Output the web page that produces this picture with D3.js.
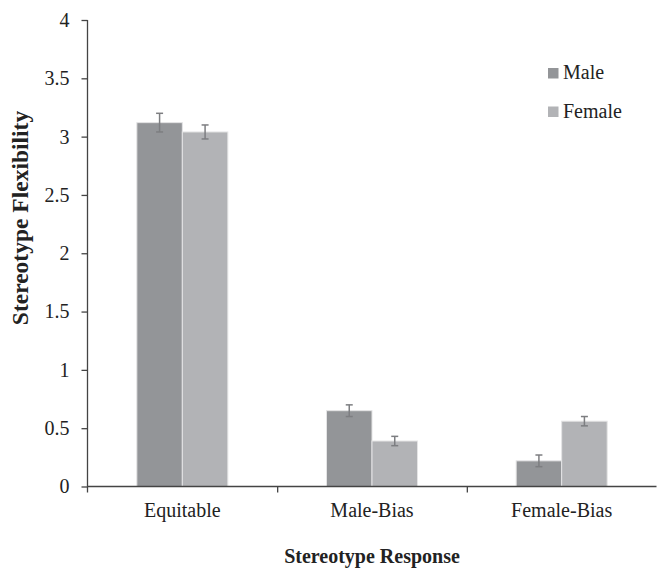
<!DOCTYPE html>
<html>
<head>
<meta charset="utf-8">
<script src="https://cdn.jsdelivr.net/npm/d3@7"></script>
<style>
  html, body { margin: 0; padding: 0; background: #fff; }
  svg { display: block; }
  text { font-family: "Liberation Serif", "Times New Roman", serif; fill: #222; }
</style>
</head>
<body>
<svg id="chart" width="657" height="568"></svg>
<script>
// Stereotype flexibility by response type and gender
const categories = ["Equitable", "Male-Bias", "Female-Bias"];
const seriesNames = ["Male", "Female"];
const maleValues = [3.12, 0.65, 0.22];
const maleErrors = [0.08, 0.05, 0.05];
const femaleValues = [3.04, 0.39, 0.56];
const femaleErrors = [0.06, 0.04, 0.04];
const yTicks = [0, 0.5, 1, 1.5, 2, 2.5, 3, 3.5, 4];
const yTickLabels = ["0", "0.5", "1", "1.5", "2", "2.5", "3", "3.5", "4"];

const colors = { Male: "#939598", Female: "#b2b3b6" };
const rows = categories.map((c, i) => ({
  category: c,
  bars: [
    { series: "Male", value: maleValues[i], err: maleErrors[i] },
    { series: "Female", value: femaleValues[i], err: femaleErrors[i] }
  ]
}));

const svg = d3.select("#chart");
const plotLeft = 87.5, plotRight = 656.5, plotTop = 20, plotBottom = 486.5;

const y = d3.scaleLinear().domain([0, 4]).range([plotBottom, plotTop]);
const x = d3.scaleBand().domain(categories).range([plotLeft, plotRight]).padding(0);
const groupWidth = 91;
const xs = d3.scaleBand().domain(seriesNames).range([0, groupWidth]).padding(0);

// bars
const groups = svg.append("g").selectAll("g").data(rows).join("g")
  .attr("transform", d => `translate(${x(d.category) + (x.bandwidth() - groupWidth) / 2},0)`);

groups.selectAll("rect").data(d => d.bars).join("rect")
  .attr("x", d => xs(d.series))
  .attr("y", d => y(d.value))
  .attr("width", xs.bandwidth())
  .attr("height", d => y(0) - y(d.value))
  .attr("fill", d => colors[d.series])
  .attr("stroke", "#e4e4e5")
  .attr("stroke-width", 1);

// error bars
const eb = groups.selectAll("g.err").data(d => d.bars).join("g").attr("class", "err")
  .attr("stroke", "#7d7e81").attr("stroke-width", 1.5);
const cx = d => xs(d.series) + xs.bandwidth() / 2;
eb.append("line")
  .attr("x1", cx).attr("x2", cx)
  .attr("y1", d => y(d.value + d.err)).attr("y2", d => y(d.value - d.err));
eb.append("line")
  .attr("x1", d => cx(d) - 3.5).attr("x2", d => cx(d) + 3.5)
  .attr("y1", d => y(d.value + d.err)).attr("y2", d => y(d.value + d.err));
eb.append("line")
  .attr("x1", d => cx(d) - 3.5).attr("x2", d => cx(d) + 3.5)
  .attr("y1", d => y(d.value - d.err)).attr("y2", d => y(d.value - d.err));

// y axis
const yAxis = d3.axisLeft(y).tickValues(yTicks)
  .tickFormat((d, i) => yTickLabels[i]).tickSize(6).tickPadding(12);
const gy = svg.append("g").attr("transform", `translate(${plotLeft},0)`).call(yAxis);
gy.select(".domain").attr("stroke", "#444").attr("stroke-width", 1.3)
  .attr("d", `M0,${plotTop}V${plotBottom + 6}`);
gy.selectAll(".tick line").attr("stroke", "#444").attr("stroke-width", 1.3);
gy.selectAll(".tick text").attr("font-size", 20).attr("fill", "#222")
  .style("font-family", "'Liberation Serif', 'Times New Roman', serif");

// x axis: ticks at category boundaries, labels centred in each band
const xEdge = d3.scaleLinear().domain([0, categories.length]).range([plotLeft, plotRight]);
const xAxis = d3.axisBottom(xEdge).tickValues([1, 2]).tickFormat("").tickSize(6);
const gx = svg.append("g").attr("transform", `translate(0,${plotBottom})`).call(xAxis);
gx.select(".domain").attr("stroke", "#444").attr("stroke-width", 1.3)
  .attr("d", `M${plotLeft},0H${plotRight}`);
gx.selectAll(".tick line").attr("stroke", "#444").attr("stroke-width", 1.3);

svg.append("g").selectAll("text").data(categories).join("text")
  .attr("x", d => x(d) + x.bandwidth() / 2)
  .attr("y", 517)
  .attr("text-anchor", "middle")
  .attr("font-size", 20)
  .text(d => d);

// axis titles
svg.append("text")
  .attr("x", x("Male-Bias") + x.bandwidth() / 2).attr("y", 563)
  .attr("text-anchor", "middle").attr("font-size", 20).attr("font-weight", "bold")
  .text("Stereotype Response");

svg.append("text")
  .attr("transform", `translate(28,218) rotate(-90)`)
  .attr("text-anchor", "middle").attr("font-size", 23.5).attr("font-weight", "bold")
  .text("Stereotype Flexibility");

// legend
const legend = svg.append("g").selectAll("g").data(seriesNames).join("g")
  .attr("transform", (d, i) => `translate(548,${68 + i * 38.5})`);
legend.append("rect").attr("width", 10.5).attr("height", 10.5)
  .attr("fill", d => colors[d]);
legend.append("text").attr("x", 15).attr("y", 11).attr("font-size", 20).text(d => d);
</script>
</body>
</html>
